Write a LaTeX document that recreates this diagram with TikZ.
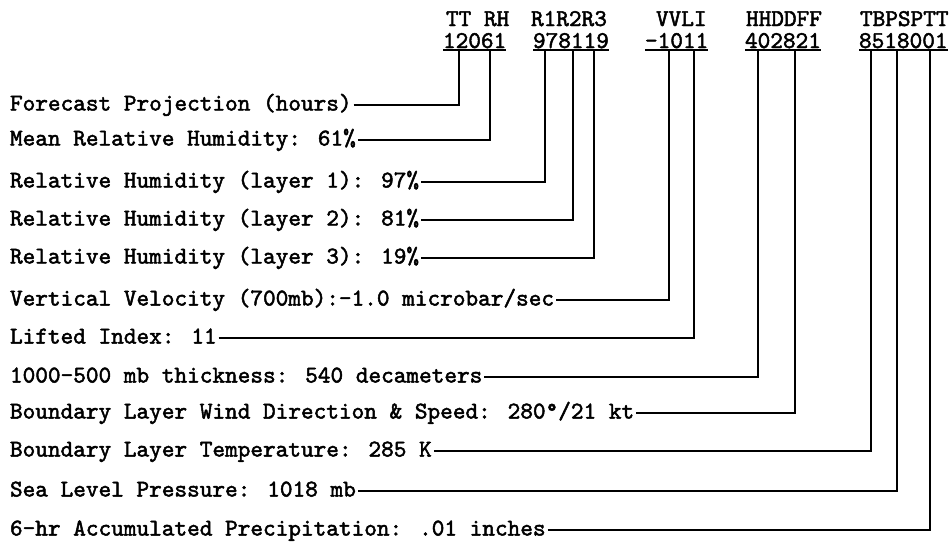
\documentclass[tikz,border=0pt]{standalone}
\usepackage{fontspec}
\newfontfamily\tw{lmmono10-regular.otf}[FakeBold=2]
\begin{document}
\begin{tikzpicture}[x=1pt,y=-1pt,
  twfont/.style={font=\tw\fontsize{24.1}{26}\selectfont},
  lbl/.style={twfont, anchor=west, inner xsep=2pt, inner ysep=0pt, outer sep=0pt, text height=11pt, text depth=0pt},
  hdr/.style={twfont, anchor=base west, inner sep=0pt, outer sep=0pt, text depth=0pt},
  code/.style={twfont, anchor=base west, inner xsep=0pt, inner ysep=2pt, outer sep=0pt, text height=12pt, text depth=0pt},
  uline/.style={line width=2.6pt},
  conn/.style={line width=2.9pt}
]
\useasboundingbox (0,0) rectangle (951,542);

% header
\node[hdr] (h1) at (446,26) {TT RH};
\node[hdr] (h2) at (531,26) {R1R2R3};
\node[hdr] (h3) at (656,26) {VVLI};
\node[hdr] (h4) at (746,26) {HHDDFF};
\node[hdr] (h5) at (860,26) {TBPSPTT};

% codes
\node[code] (c1) at (443,48) {12061};
\node[code] (c2) at (533,48) {978119};
\node[code] (c3) at (645,48) {-1011};
\node[code] (c4) at (745,48) {402821};
\node[code] (c5) at (859,48) {8518001};
\foreach \c in {c1,c2,c3,c4,c5}
  \draw[uline] (\c.south west) -- (\c.south east);

% field attachment points
\coordinate (f1) at (459,50);
\coordinate (f2) at (490,50);
\coordinate (f3) at (545,50);
\coordinate (f4) at (573,50);
\coordinate (f5) at (594,50);
\coordinate (f6) at (669,50);
\coordinate (f7) at (694,50);
\coordinate (f8) at (758,50);
\coordinate (f9) at (795,50);
\coordinate (f10) at (871,50);
\coordinate (f11) at (897,50);
\coordinate (f12) at (930,50);

% labels
\node[lbl] (l1) at (8,105) {Forecast Projection (hours)\hspace{3pt}};
\node[lbl] (l2) at (8,140) {Mean Relative Humidity: 61\%};
\node[lbl] (l3) at (8,182) {Relative Humidity (layer 1): 97\%};
\node[lbl] (l4) at (8,220) {Relative Humidity (layer 2): 81\%};
\node[lbl] (l5) at (8,258) {Relative Humidity (layer 3): 19\%};
\node[lbl] (l6) at (8,300) {Vertical Velocity (700mb):-1.0 microbar/sec};
\node[lbl] (l7) at (8,338) {Lifted Index: 11\hspace{7pt}};
\node[lbl] (l8) at (8,377) {1000-500 mb thickness: 540 decameters};
\node[lbl] (l9) at (8,413) {Boundary Layer Wind Direction \& Speed: 280°/21 kt};
\node[lbl] (l10) at (8,451) {Boundary Layer Temperature: 285 K\hspace{3pt}};
\node[lbl] (l11) at (8,491) {Sea Level Pressure: 1018 mb\hspace{2pt}};
\node[lbl] (l12) at (8,530) {6-hr Accumulated Precipitation: .01 inches\hspace{8pt}};

% connectors
\foreach \i in {1,...,12}
  \draw[conn] (l\i.east) -| (f\i);
\end{tikzpicture}
\end{document}
